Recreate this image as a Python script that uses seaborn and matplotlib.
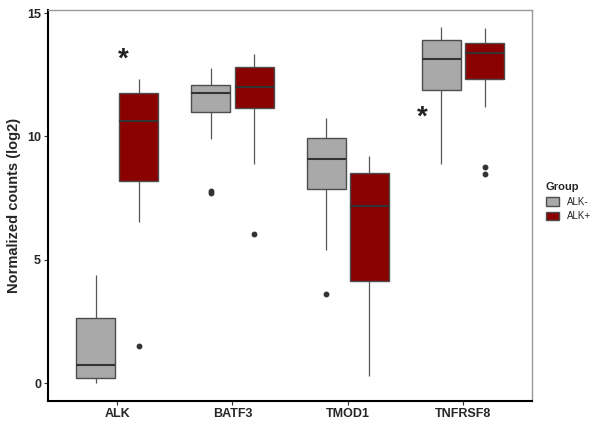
import numpy as np
import pandas as pd
import matplotlib
matplotlib.use('Agg')
import matplotlib.pyplot as plt
import seaborn as sns

# Values (13 samples per box, log2 normalized counts)
genes = ['ALK', 'BATF3', 'TMOD1', 'TNFRSF8']
groups = ['ALK-', 'ALK+']

alk_neg = [0.00, 0.05, 0.12, 0.20, 0.35, 0.55, 0.74, 1.10, 1.80, 2.64, 3.20, 3.90, 4.40]
alk_pos = [1.49, 6.52, 7.40, 8.19, 8.90, 9.80, 10.62, 11.00, 11.40, 11.75, 11.95, 12.10, 12.31]
batf3_neg = [7.71, 7.81, 9.91, 11.00, 11.30, 11.55, 11.75, 11.85, 11.95, 12.08, 12.30, 12.55, 12.76]
batf3_pos = [6.06, 8.88, 10.40, 11.17, 11.50, 11.80, 12.00, 12.30, 12.60, 12.81, 13.00, 13.20, 13.33]
tmod1_neg = [3.63, 5.41, 7.20, 7.88, 8.40, 8.80, 9.08, 9.40, 9.70, 9.92, 10.20, 10.50, 10.73]
tmod1_pos = [0.31, 2.00, 3.30, 4.15, 5.50, 6.50, 7.17, 7.60, 8.10, 8.51, 8.80, 9.00, 9.20]
tnfrsf8_neg = [8.89, 10.20, 11.20, 11.88, 12.40, 12.80, 13.13, 13.40, 13.70, 13.91, 14.10, 14.30, 14.44]
tnfrsf8_pos = [8.47, 8.75, 11.21, 12.31, 12.70, 13.10, 13.40, 13.55, 13.70, 13.79, 14.00, 14.20, 14.41]

values = {
    ('ALK', 'ALK-'): alk_neg, ('ALK', 'ALK+'): alk_pos,
    ('BATF3', 'ALK-'): batf3_neg, ('BATF3', 'ALK+'): batf3_pos,
    ('TMOD1', 'ALK-'): tmod1_neg, ('TMOD1', 'ALK+'): tmod1_pos,
    ('TNFRSF8', 'ALK-'): tnfrsf8_neg, ('TNFRSF8', 'ALK+'): tnfrsf8_pos,
}
rows = []
for (g, grp), vals in values.items():
    for v in vals:
        rows.append({'gene': g, 'Group': grp, 'value': v})
df = pd.DataFrame(rows)

# significance stars: (gene index offset, y)
star_x = [0.05, 2.65]
star_y = [13.1, 10.75]

sns.set_style('white')
plt.rcParams['font.family'] = ['Liberation Sans', 'DejaVu Sans']

fig = plt.figure(figsize=(6, 4.28), dpi=100)
ax = fig.add_axes([0.08, 0.063, 0.807, 0.914])

edge = '#4d4d4d'
sns.boxplot(data=df, x='gene', y='value', hue='Group', order=genes, hue_order=groups,
            palette={'ALK-': '#A9A9A9', 'ALK+': '#8B0000'}, saturation=1,
            width=0.75, gap=0.1, linewidth=1.0, linecolor=edge,
            showcaps=False, fliersize=3.2,
            flierprops={'marker': 'o', 'markerfacecolor': '#333333', 'markeredgecolor': '#333333'},
            medianprops={'color': '#333333', 'linewidth': 1.5},
            whiskerprops={'color': '#555555', 'linewidth': 0.9},
            ax=ax)

for x, y in zip(star_x, star_y):
    ax.text(x, y, '*', fontsize=20, fontweight='bold', ha='center', va='center', color='#222222')

ax.set_xlim(-0.6, 3.6)
ax.set_ylim(-0.72, 15.13)
ax.set_yticks([0, 5, 10, 15])
ax.set_xlabel('')
ax.set_ylabel('Normalized counts (log2)', fontsize=10.5, fontweight='bold')
ax.tick_params(axis='both', labelsize=9, length=3, width=0.8, color='#333333', pad=2,
               bottom=True, left=True)
for lab in ax.get_xticklabels() + ax.get_yticklabels():
    lab.set_fontweight('bold')

for s in ['left', 'bottom']:
    ax.spines[s].set_color('black')
    ax.spines[s].set_linewidth(1.5)
for s in ['top', 'right']:
    ax.spines[s].set_color('#999999')
    ax.spines[s].set_linewidth(1.0)

sns.move_legend(ax, 'center left', bbox_to_anchor=(1.01, 0.51), title='Group', frameon=False,
                fontsize=7, title_fontsize=8, handlelength=1.4, handleheight=1.0, labelspacing=0.5)
ax.get_legend().get_title().set_fontweight('bold')
ax.get_legend()._legend_box.align = 'left'

fig.savefig('out.png', dpi=100)
